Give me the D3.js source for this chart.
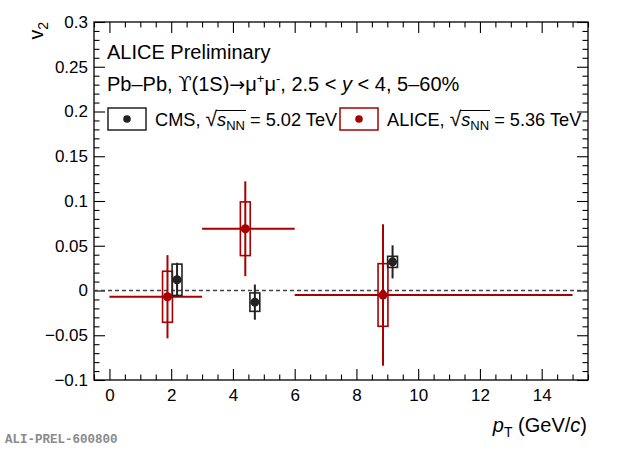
<!DOCTYPE html>
<html><head><meta charset="utf-8">
<script src="https://cdn.jsdelivr.net/npm/d3@7"></script>
<style>body{margin:0;background:#fff}svg{display:block;font-family:"Liberation Sans",Arial,sans-serif}</style>
</head><body><svg id="c" width="620" height="449"></svg>
<script>
// ---- data ----
const aliceX = [1.88, 4.40, 8.86];
const aliceXlo = [0, 3, 6];
const aliceXhi = [3, 6, 15];
const aliceY = [-0.007, 0.069, -0.005];
const aliceStat = [0.0465, 0.053, 0.079];
const aliceSyst = [0.0285, 0.030, 0.035];

const cmsX = [2.19, 4.71, 9.17];
const cmsY = [0.012, -0.013, 0.032];
const cmsStat = [0.019, 0.0196, 0.0185];
const cmsSyst = [0.0175, 0.0103, 0.0062];

const xTicks = [0, 2, 4, 6, 8, 10, 12, 14];
const yTicks = [-0.1, -0.05, 0, 0.05, 0.1, 0.15, 0.2, 0.25, 0.3];
const yTickLabels = ["\u22120.1", "\u22120.05", "0", "0.05", "0.1", "0.15", "0.2", "0.25", "0.3"];

// ---- layout ----
const L = 94, R = 588, T = 22, B = 380;
const RED = "#a80000", BLK = "#222";
const FONT = "Liberation Sans, Arial, sans-serif";
const svg = d3.select("#c");
const x = d3.scaleLinear().domain([-0.5, 15.5]).range([L, R]);
const y = d3.scaleLinear().domain([-0.1, 0.3]).range([B, T]);
const boxHalf = 0.16;

function drawAxis(axisGen, transform, labels) {
  const g = svg.append("g").attr("transform", transform).call(axisGen);
  g.select(".domain").remove();
  g.selectAll("line").attr("stroke", "#000").attr("stroke-width", 1.1);
  if (!labels) g.selectAll("text").remove();
  else g.selectAll("text").attr("font-size", 17).attr("fill", "#000").attr("font-family", FONT);
  return g;
}
const xMinor = d3.range(-0.5, 15.51, 0.5).filter(v => !xTicks.includes(v));
const yMinor = d3.range(-0.1, 0.3001, 0.01).map(v => +v.toFixed(3)).filter(v => !yTicks.some(t => Math.abs(t - v) < 1e-6));

drawAxis(d3.axisBottom(x).tickValues(xMinor).tickSize(-5.5).tickFormat(""), `translate(0,${B})`, false);
drawAxis(d3.axisBottom(x).tickValues(xTicks).tickSize(-11).tickPadding(9).tickFormat(d3.format("d")), `translate(0,${B})`, true);
drawAxis(d3.axisTop(x).tickValues(xMinor).tickSize(-5.5).tickFormat(""), `translate(0,${T})`, false);
drawAxis(d3.axisTop(x).tickValues(xTicks).tickSize(-11).tickFormat(""), `translate(0,${T})`, false);
drawAxis(d3.axisLeft(y).tickValues(yMinor).tickSize(-5.5).tickFormat(""), `translate(${L},0)`, false);
drawAxis(d3.axisLeft(y).tickValues(yTicks).tickSize(-11).tickPadding(6).tickFormat((d, i) => yTickLabels[i]), `translate(${L},0)`, true);
drawAxis(d3.axisRight(y).tickValues(yMinor).tickSize(-5.5).tickFormat(""), `translate(${R},0)`, false);
drawAxis(d3.axisRight(y).tickValues(yTicks).tickSize(-11).tickFormat(""), `translate(${R},0)`, false);

svg.append("rect").attr("x", L).attr("y", T).attr("width", R - L).attr("height", B - T)
  .attr("fill", "none").attr("stroke", "#000").attr("stroke-width", 1.3);

svg.append("line").attr("x1", L).attr("x2", R).attr("y1", y(0)).attr("y2", y(0))
  .attr("stroke", "#444").attr("stroke-width", 1.3).attr("stroke-dasharray", "4,3");

// ---- ALICE ----
const alice = aliceX.map((v, i) => ({x: v, lo: aliceXlo[i], hi: aliceXhi[i], y: aliceY[i], s: aliceStat[i], sy: aliceSyst[i]}));
const ga = svg.append("g");
ga.selectAll(".h").data(alice).join("line").attr("class", "h")
  .attr("x1", d => x(d.lo)).attr("x2", d => x(d.hi)).attr("y1", d => y(d.y)).attr("y2", d => y(d.y))
  .attr("stroke", RED).attr("stroke-width", 2);
ga.selectAll(".v").data(alice).join("line").attr("class", "v")
  .attr("x1", d => x(d.x)).attr("x2", d => x(d.x)).attr("y1", d => y(d.y - d.s)).attr("y2", d => y(d.y + d.s))
  .attr("stroke", RED).attr("stroke-width", 2);
ga.selectAll("rect").data(alice).join("rect")
  .attr("x", d => x(d.x - boxHalf)).attr("width", d => x(d.x + boxHalf) - x(d.x - boxHalf))
  .attr("y", d => y(d.y + d.sy)).attr("height", d => y(d.y - d.sy) - y(d.y + d.sy))
  .attr("fill", "none").attr("stroke", RED).attr("stroke-width", 1.6);
ga.selectAll("circle").data(alice).join("circle")
  .attr("cx", d => x(d.x)).attr("cy", d => y(d.y)).attr("r", 4.5).attr("fill", RED);

// ---- CMS ----
const cms = cmsX.map((v, i) => ({x: v, y: cmsY[i], s: cmsStat[i], sy: cmsSyst[i]}));
const gc = svg.append("g");
gc.selectAll("line").data(cms).join("line")
  .attr("x1", d => x(d.x)).attr("x2", d => x(d.x)).attr("y1", d => y(d.y - d.s)).attr("y2", d => y(d.y + d.s))
  .attr("stroke", BLK).attr("stroke-width", 2);
gc.selectAll("rect").data(cms).join("rect")
  .attr("x", d => x(d.x - boxHalf)).attr("width", d => x(d.x + boxHalf) - x(d.x - boxHalf))
  .attr("y", d => y(d.y + d.sy)).attr("height", d => y(d.y - d.sy) - y(d.y + d.sy))
  .attr("fill", "none").attr("stroke", BLK).attr("stroke-width", 1.6);
gc.selectAll("circle").data(cms).join("circle")
  .attr("cx", d => x(d.x)).attr("cy", d => y(d.y)).attr("r", 4.5).attr("fill", BLK);

// ---- texts ----
svg.append("text").attr("x", 107).attr("y", 59).attr("font-size", 20).text("ALICE Preliminary");
const t2 = svg.append("text").attr("x", 107).attr("y", 91).attr("font-size", 20);
t2.append("tspan").text("Pb\u2013Pb, ");
t2.append("tspan").style("font-family", "DejaVu Serif, serif").attr("font-size", 19.5).text("\u03D2");
t2.append("tspan").text("(1S)");
t2.append("tspan").style("font-family", "DejaVu Sans, sans-serif").attr("font-size", 19).text("\u2192");
t2.append("tspan").text("\u03BC");
t2.append("tspan").attr("dy", -8).attr("font-size", 13).text("+");
t2.append("tspan").attr("dy", 8).text("\u03BC");
t2.append("tspan").attr("dy", -8).attr("font-size", 13).text("-");
t2.append("tspan").attr("dy", 8).text(", 2.5 < ");
t2.append("tspan").attr("font-style", "italic").text("y");
t2.append("tspan").text(" < 4, 5\u201360%");

function legendEntry(bx, col, label, energy) {
  svg.append("rect").attr("x", bx).attr("y", 108).attr("width", 38).attr("height", 22)
    .attr("fill", "#fff").attr("stroke", col).attr("stroke-width", 1.5);
  svg.append("circle").attr("cx", bx + 19).attr("cy", 119).attr("r", 3.8).attr("fill", col);
  const t = svg.append("text").attr("x", bx + 47).attr("y", 126).attr("font-size", 18.2);
  t.append("tspan").text(label + ", ");
  t.append("tspan").attr("font-size", 21).text("\u221A");
  t.append("tspan").attr("font-style", "italic").text("s");
  t.append("tspan").attr("dy", 4).attr("font-size", 13).text("NN");
  t.append("tspan").attr("dy", -4).text(" = " + energy + " TeV");
  const node = t.node();
  const n0 = (label + ", ").length;
  const sqEnd = node.getEndPositionOfChar(n0);
  const nnEnd = node.getEndPositionOfChar(n0 + 3);
  svg.append("line").attr("x1", sqEnd.x - 1).attr("x2", nnEnd.x + 1).attr("y1", 110.5).attr("y2", 110.5)
    .attr("stroke", "#000").attr("stroke-width", 1);
}
legendEntry(108, BLK, "CMS", "5.02");
legendEntry(340, RED, "ALICE", "5.36");

const xt = svg.append("text").attr("x", 587).attr("y", 432).attr("text-anchor", "end").attr("font-size", 20);
xt.append("tspan").attr("font-style", "italic").text("p");
xt.append("tspan").attr("dy", 5).attr("font-size", 14).text("T");
xt.append("tspan").attr("dy", -5).text(" (GeV/");
xt.append("tspan").attr("font-style", "italic").text("c");
xt.append("tspan").text(")");

const yt = svg.append("text").attr("transform", "translate(43,22) rotate(-90)").attr("text-anchor", "end").attr("font-size", 19.5);
yt.append("tspan").text("v");
yt.append("tspan").attr("dy", 5).attr("font-size", 14).text("2");

svg.append("text").attr("x", 5).attr("y", 443).style("font-family", "Liberation Mono, Courier New, monospace")
  .attr("font-weight", "bold").attr("font-size", 12.5).attr("fill", "#8a8a8a").text("ALI-PREL-600800");
</script></body></html>
